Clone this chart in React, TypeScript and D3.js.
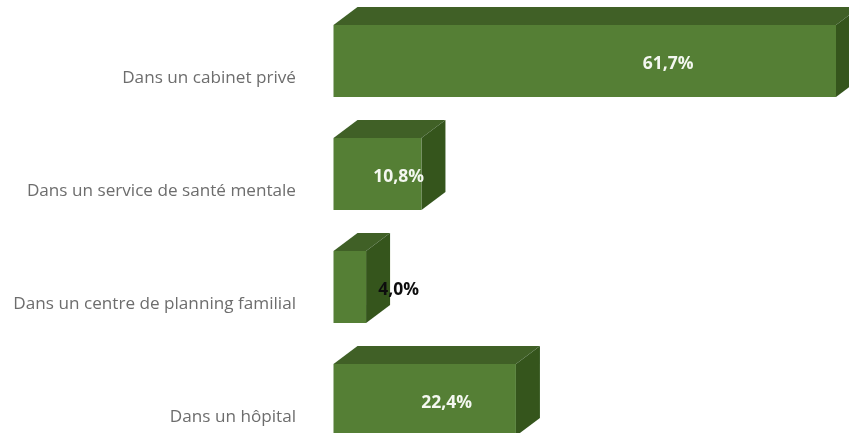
import React from "react";
import * as d3 from "d3";

const categories = ["Dans un cabinet privé", "Dans un service de santé mentale", "Dans un centre de planning familial", "Dans un hôpital"];
const values = [61.7, 10.8, 4.0, 22.4];
const valueLabels = ["61,7%", "10,8%", "4,0%", "22,4%"];
const labelAt = [41.1, 8.0, 8.0, 13.9];
const labelColors = ["#f4f7f0", "#f4f7f0", "#111111", "#f4f7f0"];

const W = 849, H = 433;
const DX = 24, DY = 18;

export default function App() {
  const x = d3.scaleLinear().domain([0, 61.7]).range([333.5, 836]);
  const y = d3.scalePoint<string>().domain(categories).range([25, 364]);
  const bh = 72;
  return (
    <svg width={W} height={H} viewBox={`0 0 ${W} ${H}`} style={{ position: "absolute", left: 0, top: 0, background: "#fff" }}>
      <defs>
        <filter id="soft" x="-5%" y="-5%" width="110%" height="110%">
          <feGaussianBlur stdDeviation="0.5" />
        </filter>
      </defs>
      <g filter="url(#soft)">
        {categories.map((c, i) => {
          const x0 = x(0), x1 = x(values[i]), t = y(c)!, b = t + bh;
          const path = d3.path();
          path.moveTo(x0, t); path.lineTo(x0 + DX, t - DY); path.lineTo(x1 + DX, t - DY); path.lineTo(x1, t); path.closePath();
          const side = d3.path();
          side.moveTo(x1, t); side.lineTo(x1 + DX, t - DY); side.lineTo(x1 + DX, b - DY); side.lineTo(x1, b); side.closePath();
          return (
            <g key={c}>
              <path d={path.toString()} fill="#3f6128" />
              <path d={side.toString()} fill="#35551f" />
              <rect x={x0} y={t} width={x1 - x0} height={bh} fill="#547f36" />
            </g>
          );
        })}
        {categories.map((c) => (
          <text key={c} x={296} y={y(c)! + 57.5} textAnchor="end" fontFamily="'Open Sans', sans-serif" fontSize={17.15} fill="#6d6d6d">{c}</text>
        ))}
        {categories.map((c, i) => (
          <text key={c} x={x(labelAt[i])} y={y(c)! + 44} textAnchor="middle" fontFamily="'Open Sans', sans-serif" fontWeight={700} fontSize={17.5} fill={labelColors[i]}>{valueLabels[i]}</text>
        ))}
      </g>
    </svg>
  );
}
